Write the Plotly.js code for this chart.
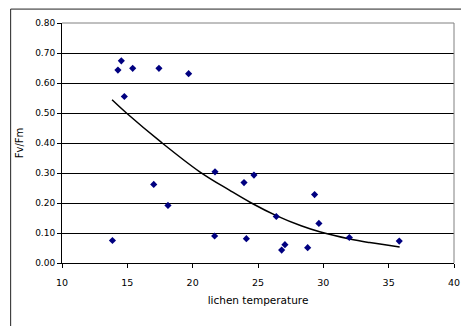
<!DOCTYPE html>
<html>
<head>
<meta charset="utf-8">
<script src="https://cdn.plot.ly/plotly-3.0.1.min.js"></script>
<style>html,body{margin:0;padding:0;background:#fff;}#chart{width:461px;height:326px;}</style>
</head>
<body>
<div id="chart"></div>
<script>
// Measured points: lichen temperature vs Fv/Fm
var temperature = [14.28, 14.54, 15.41, 14.77, 17.42, 19.69, 13.86, 17.02, 18.11, 21.71, 21.68,
                   23.93, 24.69, 24.11, 26.40, 26.81, 27.06, 28.80, 29.33, 29.66, 31.99, 35.81];
var fvfm = [0.643, 0.674, 0.649, 0.555, 0.649, 0.631, 0.075, 0.262, 0.192, 0.304, 0.090,
            0.268, 0.293, 0.081, 0.155, 0.043, 0.061, 0.051, 0.228, 0.132, 0.085, 0.073];

// Trend curve
var trendX = [13.83, 14.93, 17.61, 20.54, 22.84, 24.49, 26.40, 28.30, 29.72, 32.02, 33.55, 35.84];
var trendY = [0.544, 0.500, 0.402, 0.304, 0.242, 0.200, 0.158, 0.124, 0.104, 0.080, 0.068, 0.053];

var xTicks = [10, 15, 20, 25, 30, 35, 40];
var yTicks = [0, 0.1, 0.2, 0.3, 0.4, 0.5, 0.6, 0.7, 0.8];

var fontFam = '"DejaVu Sans", Verdana, sans-serif';

var traces = [
  {x: trendX, y: trendY, type: 'scatter', mode: 'lines',
   line: {color: '#000000', width: 1.5, shape: 'spline', smoothing: 1}, hoverinfo: 'skip'},
  {x: temperature, y: fvfm, type: 'scatter', mode: 'markers',
   marker: {symbol: 'diamond', size: 5.5, color: '#000080'}}
];

var layout = {
  width: 461, height: 326,
  margin: {l: 62, r: 7, t: 23, b: 63, pad: 0},
  paper_bgcolor: '#ffffff', plot_bgcolor: '#ffffff',
  showlegend: false,
  font: {family: fontFam, size: 9, color: '#000000'},
  xaxis: {
    range: [10, 40], tickvals: xTicks, ticktext: xTicks.map(String),
    showgrid: false, zeroline: false,
    showline: true, linecolor: '#000000', linewidth: 1,
    ticks: 'outside', ticklen: 4, tickcolor: '#000000',
    ticklabelstandoff: 7,
    tickfont: {family: fontFam, size: 9.5},
    title: {text: 'lichen temperature', font: {family: fontFam, size: 10.5}, standoff: 9}
  },
  yaxis: {
    range: [0, 0.8], tickvals: yTicks, ticktext: yTicks.map(function(v){return v.toFixed(2);}),
    showgrid: true, gridcolor: '#000000', gridwidth: 1, zeroline: false,
    showline: true, linecolor: '#000000', linewidth: 1,
    ticks: 'outside', ticklen: 4, tickcolor: '#000000',
    tickfont: {family: fontFam, size: 9},
    title: {text: 'Fv/Fm', font: {family: fontFam, size: 10}, standoff: 9}
  },
  shapes: [
    {type: 'line', xref: 'paper', yref: 'paper', x0: 0, x1: 1, y0: 1, y1: 1,
     line: {color: '#808080', width: 1}, layer: 'above'},
    {type: 'line', xref: 'paper', yref: 'paper', x0: 1, x1: 1, y0: 0, y1: 1,
     line: {color: '#808080', width: 1}, layer: 'above'},
    {type: 'line', xref: 'paper', yref: 'paper', x0: -0.131, x1: 1.1, y0: 1.058, y1: 1.058,
     line: {color: '#222222', width: 1}, layer: 'above'},
    {type: 'line', xref: 'paper', yref: 'paper', x0: -0.131, x1: -0.131, y0: -0.3, y1: 1.058,
     line: {color: '#222222', width: 1}, layer: 'above'}
  ]
};

Plotly.newPlot('chart', traces, layout, {displayModeBar: false, staticPlot: true});
</script>
</body>
</html>
